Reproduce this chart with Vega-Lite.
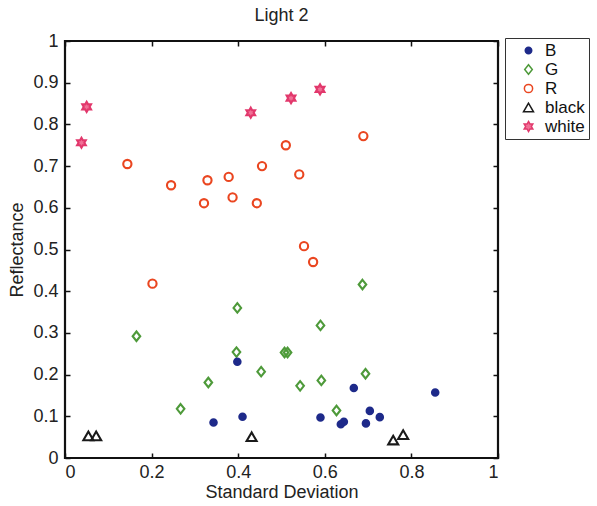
{
  "$schema": "https://vega.github.io/schema/vega-lite/v6.json",
  "width": 433,
  "height": 417,
  "autosize": {"type": "none"},
  "padding": {"left": 65, "top": 41, "right": 99, "bottom": 48},
  "background": "white",
  "title": {"text": "Light 2", "fontSize": 18, "font": "Liberation Sans", "fontWeight": "normal", "color": "#222", "offset": 7, "anchor": "middle"},
  "config": {
    "view": {"stroke": "#111", "strokeWidth": 2.2},
    "font": "Liberation Sans",
    "axis": {"grid": false, "domain": false, "tickColor": "#111", "tickWidth": 1.5, "labelColor": "#222", "labelFontSize": 18, "titleFontSize": 18, "titleFontWeight": "normal", "titleColor": "#222", "labelFont": "Liberation Sans", "titleFont": "Liberation Sans"}
  },
  "data": {"values": [
    {"sd": 0.038, "r": 0.756, "cat": "white"},
    {"sd": 0.050, "r": 0.842, "cat": "white"},
    {"sd": 0.429, "r": 0.828, "cat": "white"},
    {"sd": 0.522, "r": 0.863, "cat": "white"},
    {"sd": 0.589, "r": 0.884, "cat": "white"},
    {"sd": 0.144, "r": 0.705, "cat": "R"},
    {"sd": 0.245, "r": 0.654, "cat": "R"},
    {"sd": 0.321, "r": 0.611, "cat": "R"},
    {"sd": 0.329, "r": 0.666, "cat": "R"},
    {"sd": 0.378, "r": 0.674, "cat": "R"},
    {"sd": 0.387, "r": 0.625, "cat": "R"},
    {"sd": 0.443, "r": 0.611, "cat": "R"},
    {"sd": 0.455, "r": 0.700, "cat": "R"},
    {"sd": 0.510, "r": 0.750, "cat": "R"},
    {"sd": 0.541, "r": 0.680, "cat": "R"},
    {"sd": 0.689, "r": 0.772, "cat": "R"},
    {"sd": 0.552, "r": 0.508, "cat": "R"},
    {"sd": 0.573, "r": 0.470, "cat": "R"},
    {"sd": 0.202, "r": 0.418, "cat": "R"},
    {"sd": 0.165, "r": 0.292, "cat": "G"},
    {"sd": 0.267, "r": 0.118, "cat": "G"},
    {"sd": 0.331, "r": 0.181, "cat": "G"},
    {"sd": 0.398, "r": 0.360, "cat": "G"},
    {"sd": 0.396, "r": 0.254, "cat": "G"},
    {"sd": 0.453, "r": 0.207, "cat": "G"},
    {"sd": 0.507, "r": 0.253, "cat": "G"},
    {"sd": 0.514, "r": 0.253, "cat": "G"},
    {"sd": 0.543, "r": 0.173, "cat": "G"},
    {"sd": 0.687, "r": 0.416, "cat": "G"},
    {"sd": 0.590, "r": 0.318, "cat": "G"},
    {"sd": 0.592, "r": 0.186, "cat": "G"},
    {"sd": 0.694, "r": 0.202, "cat": "G"},
    {"sd": 0.627, "r": 0.114, "cat": "G"},
    {"sd": 0.398, "r": 0.231, "cat": "B"},
    {"sd": 0.343, "r": 0.085, "cat": "B"},
    {"sd": 0.410, "r": 0.099, "cat": "B"},
    {"sd": 0.667, "r": 0.168, "cat": "B"},
    {"sd": 0.855, "r": 0.157, "cat": "B"},
    {"sd": 0.590, "r": 0.097, "cat": "B"},
    {"sd": 0.637, "r": 0.081, "cat": "B"},
    {"sd": 0.644, "r": 0.087, "cat": "B"},
    {"sd": 0.704, "r": 0.113, "cat": "B"},
    {"sd": 0.727, "r": 0.098, "cat": "B"},
    {"sd": 0.695, "r": 0.083, "cat": "B"},
    {"sd": 0.054, "r": 0.053, "cat": "black"},
    {"sd": 0.072, "r": 0.053, "cat": "black"},
    {"sd": 0.431, "r": 0.051, "cat": "black"},
    {"sd": 0.758, "r": 0.043, "cat": "black"},
    {"sd": 0.781, "r": 0.056, "cat": "black"}
  ]},
  "resolve": {"axis": {"x": "independent", "y": "independent"}},
  "layer": [
    {
      "mark": {"type": "point", "opacity": 0},
      "encoding": {
        "x": {"field": "sd", "type": "quantitative", "scale": {"domain": [0, 1], "nice": false, "zero": false},
              "axis": {"orient": "top", "labels": false, "title": null, "values": [0, 0.2, 0.4, 0.6, 0.8, 1], "tickSize": -5}},
        "y": {"field": "r", "type": "quantitative", "scale": {"domain": [0, 1], "nice": false, "zero": false},
              "axis": {"orient": "right", "labels": false, "title": null, "values": [0, 0.1, 0.2, 0.3, 0.4, 0.5, 0.6, 0.7, 0.8, 0.9, 1], "tickSize": -5}}
      }
    },
    {
      "mark": {"type": "point", "strokeWidth": 2.1, "opacity": 1},
      "encoding": {
        "x": {"field": "sd", "type": "quantitative", "scale": {"domain": [0, 1], "nice": false, "zero": false},
              "axis": {"orient": "bottom", "title": "Standard Deviation", "values": [0, 0.2, 0.4, 0.6, 0.8, 1], "format": "~g", "tickSize": -5, "labelPadding": 10, "titlePadding": 2}},
        "y": {"field": "r", "type": "quantitative", "scale": {"domain": [0, 1], "nice": false, "zero": false},
              "axis": {"orient": "left", "title": "Reflectance", "values": [0, 0.1, 0.2, 0.3, 0.4, 0.5, 0.6, 0.7, 0.8, 0.9, 1], "format": "~g", "tickSize": -5, "labelPadding": 12, "titlePadding": 6}},
        "stroke": {"field": "cat", "type": "nominal",
                   "scale": {"domain": ["B", "G", "R", "black", "white"], "range": ["#1e2a8a", "#4e9a3a", "#ea4620", "#1a1a1a", "#e2386c"]},
                   "legend": {"orient": "none", "legendX": 440, "legendY": -3, "title": null, "strokeColor": "#333", "fillColor": "white", "padding": 4, "symbolOffset": 11, "labelOffset": 8, "labelFontSize": 17, "labelColor": "#111", "rowPadding": 1, "labelFont": "Liberation Sans"}},
        "fill": {"field": "cat", "type": "nominal",
                 "scale": {"domain": ["B", "G", "R", "black", "white"], "range": ["#1e2a8a", "transparent", "transparent", "transparent", "#f07096"]}},
        "shape": {"field": "cat", "type": "nominal",
                  "scale": {"domain": ["B", "G", "R", "black", "white"], "range": ["circle", "M0,-1L0.8,0L0,1L-0.8,0Z", "circle", "triangle-up", "M0,-1L0.2887,-0.5L0.866,-0.5L0.5774,0L0.866,0.5L0.2887,0.5L0,1L-0.2887,0.5L-0.866,0.5L-0.5774,0L-0.866,-0.5L-0.2887,-0.5Z"]}},
        "size": {"field": "cat", "type": "nominal",
                 "scale": {"type": "ordinal", "domain": ["B", "G", "R", "black", "white"], "range": [42, 90, 68, 100, 100]}}
      }
    }
  ]
}
